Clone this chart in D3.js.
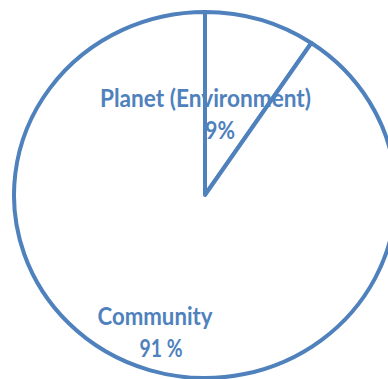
<!DOCTYPE html>
<html>
<head>
<meta charset="utf-8">
<script src="https://cdn.jsdelivr.net/npm/d3@7"></script>
<style>
  body { margin: 0; background: #fff; }
  svg { display: block; }
</style>
</head>
<body>
<div id="chart"></div>
<script>
// data (slice angle suggests a bit over 9%)
var categories = ["Planet (Environment)", "Community"];
var shares = [9.4, 90.6];
var shareLabels = ["9%", "91 %"];

var width = 388, height = 379;
var cx = 205, cy = 195, rx = 191, ry = 183;
var blue = "#4F81BD";

var svg = d3.select("#chart").append("svg")
    .attr("width", width)
    .attr("height", height);

var pie = d3.pie().sort(null).value(function (d) { return d; });
var arc = d3.arc().innerRadius(0).outerRadius(rx);

// the pie is a little squashed vertically
var g = svg.append("g")
    .attr("transform", "translate(" + cx + "," + cy + ") scale(1," + (ry / rx) + ")");

g.selectAll("path")
    .data(pie(shares))
    .join("path")
    .attr("d", arc)
    .attr("fill", "#fff")
    .attr("stroke", blue)
    .attr("stroke-width", 4)
    .attr("stroke-linejoin", "round")
    .attr("vector-effect", "non-scaling-stroke");

// labels: name on first line, share underneath
var labelPos = [
  { x: 205.5, y: 107, x2: 220, y2: 139 },
  { x: 155, y: 325, x2: 161, y2: 357 }
];
var labelWidths = [211, 115];
var shareWidths = [30, 43];

categories.forEach(function (name, i) {
  var p = labelPos[i];
  svg.append("text")
      .attr("x", p.x)
      .attr("y", p.y)
      .attr("text-anchor", "middle")
      .attr("font-family", "Lato, 'Open Sans', sans-serif")
      .attr("font-weight", "bold")
      .attr("font-size", "24px")
      .attr("fill", blue)
      .attr("textLength", labelWidths[i])
      .attr("lengthAdjust", "spacingAndGlyphs")
      .text(name);
  svg.append("text")
      .attr("x", p.x2)
      .attr("y", p.y2)
      .attr("text-anchor", "middle")
      .attr("font-family", "Lato, 'Open Sans', sans-serif")
      .attr("font-weight", "bold")
      .attr("font-size", "24px")
      .attr("fill", blue)
      .attr("textLength", shareWidths[i])
      .attr("lengthAdjust", "spacingAndGlyphs")
      .text(shareLabels[i]);
});
</script>
</body>
</html>
